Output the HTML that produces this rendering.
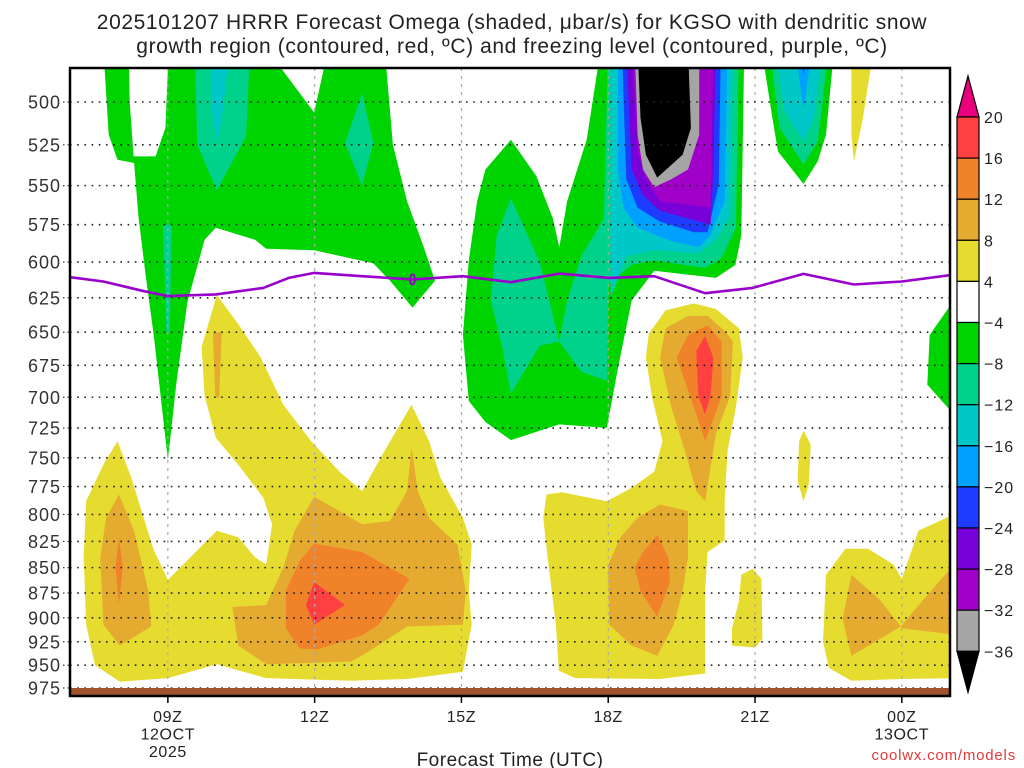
<!DOCTYPE html>
<html><head><meta charset="utf-8"><title>HRRR Omega KGSO</title>
<style>
html,body{margin:0;padding:0;background:#fff;width:1024px;height:768px;overflow:hidden}
svg{display:block;font-family:"Liberation Sans",sans-serif}
</style></head>
<body>
<svg id="chart" width="1024" height="768" viewBox="0 0 1024 768" xmlns="http://www.w3.org/2000/svg">
<defs><clipPath id="plotclip"><rect x="70" y="68" width="880" height="628"/></clipPath></defs>
<text x="512" y="29" text-anchor="middle" font-size="21" fill="#222" letter-spacing="0.6">2025101207 HRRR Forecast Omega (shaded, μbar/s) for KGSO with dendritic snow</text>
<text x="512" y="53" text-anchor="middle" font-size="21" fill="#222" letter-spacing="0.6">growth region (contoured, red, ºC) and freezing level (contoured, purple, ºC)</text>
<g id="fills" clip-path="url(#plotclip)"></g>
<g id="grid"></g>
<g id="lines" clip-path="url(#plotclip)"></g>
<rect x="70" y="688" width="880" height="7" fill="#a0522d"/>
<rect x="70" y="68" width="880" height="628" fill="none" stroke="#000" stroke-width="2.5"/>
<g id="axes"></g>
<g id="cbar"></g>
<text x="510" y="766" text-anchor="middle" font-size="19" fill="#222" letter-spacing="0.5">Forecast Time (UTC)</text>
<text x="1016" y="760" text-anchor="end" font-size="15" fill="#e03a3a" letter-spacing="0.8">coolwx.com/models</text>
</svg>
<script>
// ---- data (hour since 00Z 12 Oct, pressure hPa) ----
const pTicks = [500,525,550,575,600,625,650,675,700,725,750,775,800,825,850,875,900,925,950,975];
const hTicks = [9,12,15,18,21,24];
const hLabels = [["09Z","12OCT","2025"],["12Z"],["15Z"],["18Z"],["21Z"],["00Z","13OCT"]];
const cbLevels = [20,16,12,8,4,-4,-8,-12,-16,-20,-24,-28,-32,-36];
const cbColors = ["#ff4040","#f0822a","#e5aa30","#e6dc30","#ffffff","#00d400","#00d28c","#00c8c8","#00a0ff","#1e3cff","#7800d8","#a000c8","#a5a5a5"];
const freezeH = [7,7.68,8.48,9,9.98,10.95,11.47,11.99,12.97,14,15.03,16.01,17,18.02,18.94,19.98,20.95,21.99,23.02,24,25];
const freezeP = [610.5,613.5,620,623.8,622.6,618,611,607.5,609.8,612,609.8,614,608,611,609.8,621.7,618,608.2,615.6,613.5,609];
// levels: 4-8
const lev4 = [
 [[7.97,736],[8.25,767],[8.71,833],[9,862],[9.46,840],[10,815],[10.44,821],[10.78,840],[11.01,847],[11.13,809],[10.95,785],[10.44,756],[9.98,733],[9.75,699],[9.69,661],[10,623],[10.44,644],[10.9,669],[11.36,706],[11.93,736],[12.51,762],[12.97,779],[13.43,744],[13.98,706],[14.34,736],[14.57,767],[15.03,803],[15.21,828],[15.15,873],[15.21,907],[15.03,957],[13.89,965],[12.74,967],[11.01,964],[10,949],[9,964],[8.02,968],[7.51,950],[7.33,907],[7.28,840],[7.33,788],[7.68,756]],
 [[18.83,651],[19.17,634],[19.75,629],[20.2,633],[20.67,647],[20.75,669],[20.61,708],[20.44,744],[20.38,788],[20.38,824],[20.03,835],[19.98,873],[19.98,959],[19.06,965],[17.33,964],[16.99,956],[16.93,907],[16.76,840],[16.67,803],[16.74,782],[17.05,780],[17.97,788],[18.48,776],[18.94,762],[19.11,736],[18.89,699],[18.77,669]],
 [[21.9,736],[21.99,727],[22.14,739],[22.1,773],[21.99,788],[21.87,770]],
 [[20.95,851],[21.13,861],[21.15,922],[21,931],[20.53,929],[20.53,911],[20.67,883],[20.72,857]],
 [[22.39,925],[22.45,857],[22.85,832],[23.31,832],[23.83,847],[24,861],[24.34,815],[25.2,797],[25.2,964],[24,965],[22.97,967],[22.51,953]],
 [[22.97,470],[23.43,470],[23.2,510],[23.02,535],[22.97,519]]
];
const lev8 = [
 [[8,782],[8.31,815],[8.6,873],[8.66,909],[8.02,929],[7.68,907],[7.62,840],[7.74,803]],
 [[9.92,650],[10.1,650],[10.05,700],[9.97,700]],
 [[11.99,784],[12.97,809],[13.54,806],[13.89,779],[13.98,741],[14.11,779],[14.34,803],[14.92,828],[15.09,873],[15.03,907],[13.89,909],[13.08,936],[12.74,946],[11.01,949],[10.44,929],[10.32,889],[11.01,887],[11.36,850],[11.59,815]],
 [[19.63,638],[20.03,638],[20.38,649],[20.55,657],[20.49,699],[20.2,730],[19.98,788],[19.8,779],[19.63,753],[19.29,708],[19.06,669],[19.17,647]],
 [[19.06,791],[19.63,797],[19.63,840],[19.52,873],[19.34,907],[19,940],[18.48,929],[18.02,907],[18,847],[18.25,821],[18.6,803]],
 [[22.97,857],[23.54,881],[23.98,909],[22.97,940],[22.79,901]],
 [[23.98,909],[24.45,881],[25.2,840],[25.2,918],[24,911]]
];
const lev12 = [
 [[8,821],[8.08,850],[8,886],[7.93,850]],
 [[11.99,827],[12.97,835],[13.94,861],[13.66,881],[13.31,907],[12.97,918],[12.05,933],[11.7,932],[11.41,911],[11.41,873],[11.7,843]],
 [[19.63,652],[20.03,645],[20.32,657],[20.32,699],[19.98,736],[19.75,708],[19.4,669]],
 [[19,819],[19.23,840],[19.26,864],[19,899],[18.66,873],[18.54,850],[18.71,835]]
];
const lev16 = [
 [[11.99,864],[12.62,887],[11.99,907],[11.82,887]],
 [[19.98,653],[20.15,669],[20.09,699],[19.98,714],[19.84,699],[19.8,664]]
];
const levM4 = [
 [[7.68,470],[7.79,519],[7.97,534],[8.31,536],[8.4,570],[8.55,610],[8.71,652],[9,752],[9.17,690],[9.4,628],[9.75,585],[9.98,577],[10.78,585],[11.01,591],[11.99,592],[13.2,601],[13.54,613],[14,632],[14.46,613],[14.23,590],[13.89,560],[13.6,525],[13.43,470],[12.28,470],[11.99,506],[11,470],[9.02,470],[8.95,515],[8.75,532],[8.3,532],[8.22,500],[8.2,470]],
 [[16.01,522],[15.49,540],[15.32,560],[15.15,599],[15.03,652],[15.15,703],[15.49,720],[16.01,735],[17,722],[17.97,725],[18.2,677],[18.48,627],[18.94,606],[20.2,611],[20.6,602],[20.72,582],[20.78,470],[17.85,470],[17.56,522],[17.16,560],[17,590],[16.87,571],[16.53,544]],
 [[21.13,470],[22.62,470],[22.45,519],[22.28,535],[21.99,549],[21.47,529],[21.36,510]],
 [[25.2,620],[24.57,652],[24.52,690],[25.2,720]]
];
const levM8 = [
 [[9.55,470],[10.68,470],[10.6,520],[10,553],[9.6,525]],
 [[8.9,575],[9.08,575],[9.04,650],[8.97,650]],
 [[12.97,495],[13.2,524],[12.97,550],[12.62,524]],
 [[16.01,558],[15.72,582],[15.6,627],[15.84,662],[16.01,697],[16.6,660],[17,657],[16.6,600]],
 [[18,470],[20.67,470],[20.61,577],[20.32,597],[19.98,604],[18.94,599],[18.48,602],[18,615],[17.97,687],[17.45,680],[17,657],[17.16,627],[17.45,596],[17.91,571]],
 [[21.3,470],[22.51,470],[22.28,523],[21.99,537],[21.5,515]]
];
const levM12 = [
 [[9.86,470],[10.27,470],[10.1,510],[10,524],[9.9,505]],
 [[18.05,470],[20.55,470],[20.49,569],[20.2,585],[19.86,594],[18.94,592],[18.37,596],[18.05,625]],
 [[21.41,470],[22.39,470],[22.2,510],[21.99,523],[21.6,505]]
];
const levM16 = [
 [[18.2,470],[20.44,470],[20.38,560],[20.09,582],[19.86,590],[19.29,586],[18.6,577],[18.31,564],[18.2,540]],
 [[21.82,470],[22.17,470],[21.99,504]]
];
const levM20 = [
 [[18.28,470],[20.3,470],[20.26,549],[20.03,580],[19.75,580],[19.06,573],[18.6,564],[18.37,546]],
 [[21.94,470],[22.04,470],[21.99,485]]
];
const levM24 = [[[18.37,470],[20.2,470],[20.15,540],[20.09,575],[19.63,571],[19.06,566],[18.71,556],[18.48,540]]];
const levM28 = [[[18.48,470],[20.15,470],[20.09,564],[19.63,562],[19.06,560],[18.77,546],[18.6,529]]];
const levM32 = [[[18.54,470],[19.86,470],[19.86,519],[19.63,540],[19.29,546],[18.94,551],[18.71,540],[18.6,519]]];
const levM36 = [[[18.6,470],[19.63,470],[19.69,515],[19.52,531],[19,545],[18.77,531],[18.66,509]]];

// ---- axes ----
const NS = "http://www.w3.org/2000/svg";
const X0 = 70, PX_PER_H = 48.93, H0 = 7;
function xs(h){ return X0 + (h - H0) * PX_PER_H; }
function ys(p){ return 102 + 877.5 * Math.log(p / 500); }
function mk(tag, attrs, parent){ const e = document.createElementNS(NS, tag); for (const k in attrs) e.setAttribute(k, attrs[k]); parent.appendChild(e); return e; }

const fills = document.getElementById('fills');
const layers = [
 [lev4,"#e6dc30","level-4-8"],[lev8,"#e5aa30","level-8-12"],[lev12,"#f0822a","level-12-16"],[lev16,"#ff4040","level-16-20"],
 [levM4,"#00d400","level-neg4-neg8"],[levM8,"#00d28c","level-neg8-neg12"],[levM12,"#00c8c8","level-neg12-neg16"],
 [levM16,"#00a0ff","level-neg16-neg20"],[levM20,"#1e3cff","level-neg20-neg24"],[levM24,"#7800d8","level-neg24-neg28"],
 [levM28,"#a000c8","level-neg28-neg32"],[levM32,"#a5a5a5","level-neg32-neg36"],[levM36,"#000000","level-below-neg36"]
];
layers.forEach(function(L){
 L[0].forEach(function(poly){
  const pts = poly.map(function(q){ return xs(q[0]).toFixed(1) + "," + ys(q[1]).toFixed(1); }).join(" ");
  const el = mk('polygon', {points: pts, fill: L[1]}, fills);
  
  
 });
});

const grid = document.getElementById('grid');
hTicks.forEach(function(h){
 const l = mk('line', {x1: xs(h), x2: xs(h), y1: 68, y2: 688, stroke: "#aaa", "stroke-width": 1.2, "stroke-dasharray": "3 5"}, grid);
 
 
});
pTicks.forEach(function(p){
 const l = mk('line', {x1: 70, x2: 950, y1: ys(p), y2: ys(p), stroke: "#222", "stroke-width": 1.6, "stroke-dasharray": "1.6 5.6"}, grid);
 
 
});

const lines = document.getElementById('lines');
const fpts = freezeH.map(function(h, i){ return xs(h).toFixed(1) + "," + ys(freezeP[i]).toFixed(1); }).join(" ");
const fl = mk('polyline', {points: fpts, fill: "none", stroke: "#9a00cc", "stroke-width": 2.6, "stroke-linejoin": "round"}, lines);


const fe = mk('ellipse', {cx: xs(14), cy: ys(612), rx: 2.5, ry: 5, fill: "none", stroke: "#9a00cc", "stroke-width": 2}, lines);



const axes = document.getElementById('axes');
pTicks.forEach(function(p){
 const t = mk('text', {x: 61, y: ys(p) + 6.5, "text-anchor": "end", "font-size": 18, fill: "#333", "letter-spacing": 1}, axes);
 t.textContent = p;
 
 
 const k = mk('line', {x1: 63, x2: 70, y1: ys(p), y2: ys(p), stroke: "#333", "stroke-width": 1.2, "stroke-dasharray": "1.5 3"}, axes);
 
 
});
hTicks.forEach(function(h, i){
 const k = mk('line', {x1: xs(h), x2: xs(h), y1: 696, y2: 703, stroke: "#000", "stroke-width": 1.5}, axes);
 
 
 hLabels[i].forEach(function(s, j){
  const t = mk('text', {x: xs(h), y: 722 + j * 17.5, "text-anchor": "middle", "font-size": 16, fill: "#222", "letter-spacing": 0.6}, axes);
  t.textContent = s;
  
  
 });
});

// ---- colorbar ----
const cb = document.getElementById('cbar');
const CBX = 957, CBW = 22, CBTOP = 117, CBSTEP = 41.1;
function cy(i){ return CBTOP + i * CBSTEP; }
const up = mk('polygon', {points: (CBX)+","+cy(0)+" "+(CBX+CBW)+","+cy(0)+" "+(CBX+CBW/2)+","+(cy(0)-41), fill: "#e8007f", stroke: "#000", "stroke-width": 1.2}, cb);


cbColors.forEach(function(c, i){
 const r = mk('rect', {x: CBX, y: cy(i), width: CBW, height: CBSTEP, fill: c, stroke: "#000", "stroke-width": 1.2}, cb);
 
 
});
const n = cbColors.length;
const dn = mk('polygon', {points: (CBX)+","+cy(n)+" "+(CBX+CBW)+","+cy(n)+" "+(CBX+CBW/2)+","+(cy(n)+41), fill: "#000", stroke: "#000", "stroke-width": 1.2}, cb);


cbLevels.forEach(function(v, i){
 const t = mk('text', {x: 984, y: cy(i) + 6, "font-size": 16, fill: "#222", "letter-spacing": 1}, cb);
 t.textContent = v < 0 ? "\u2212" + Math.abs(v) : String(v);
 
 
});
</script>
</body></html>
